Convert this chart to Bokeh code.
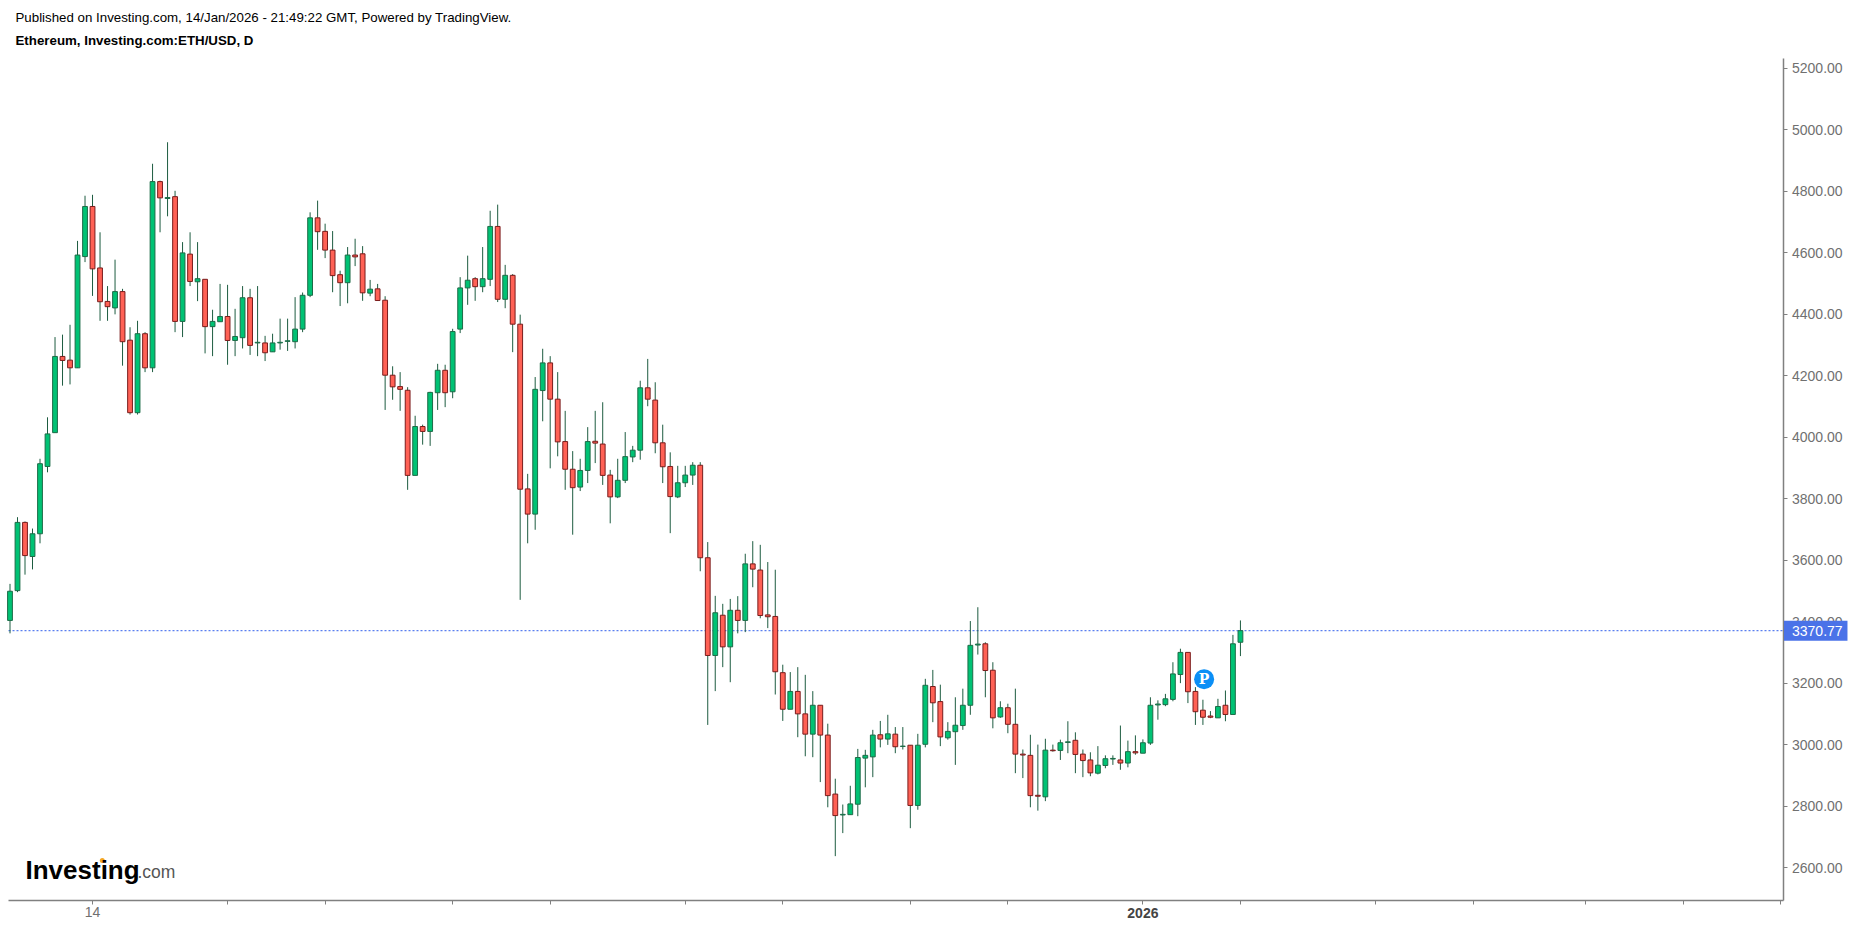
from bokeh.core.properties import value
from bokeh.embed import file_html
from bokeh.models import FixedTicker, Label, LinearAxis, NumeralTickFormatter
from bokeh.plotting import figure
from bokeh.resources import INLINE

# Daily candles, Aug 3 2025 - Jan 14 2026
opens = [3404, 3501, 3723, 3612, 3686, 3905, 4015, 4263, 4251, 4226, 4588, 4751, 4551, 4442, 4421, 4474, 4316, 4080, 4337, 4226,
         4832, 4777, 4783, 4377, 4596, 4506, 4514, 4360, 4376, 4393, 4315, 4324, 4454, 4307, 4307, 4278, 4307, 4312, 4311, 4352,
         4462, 4714, 4670, 4609, 4529, 4503, 4593, 4597, 4469, 4483, 4446, 4202, 4165, 4153, 3876, 4035, 4019, 4145, 4218, 4148,
         4352, 4486, 4516, 4490, 4514, 4686, 4449, 4527, 4368, 3832, 3750, 4152, 4242, 4124, 3986, 3896, 3838, 3892, 3987, 3978,
         3877, 3806, 3860, 3936, 3958, 4161, 4121, 3982, 3905, 3806, 3852, 3877, 3909, 3608, 3290, 3421, 3318, 3437, 3404, 3588,
         3568, 3422, 3417, 3234, 3115, 3173, 3100, 3034, 3128, 3031, 2839, 2771, 2772, 2806, 2956, 2960, 3032, 3018, 3034, 2994,
         2998, 2802, 3001, 3189, 3140, 3022, 3042, 3062, 3128, 3324, 3328, 3242, 3090, 3120, 3066, 2969, 2965, 2835, 2830, 2982,
         2981, 3007, 3014, 2969, 2950, 2907, 2932, 2953, 2950, 2940, 2977, 2972, 3005, 3129, 3130, 3147, 3228, 3300, 3173, 3112,
         3093, 3087, 3128, 3098, 3333]
highs = [3523, 3740, 3726, 3703, 3930, 4065, 4326, 4334, 4366, 4639, 4786, 4789, 4667, 4492, 4578, 4483, 4358, 4379, 4342, 4890,
         4835, 4960, 4802, 4635, 4667, 4635, 4514, 4415, 4499, 4496, 4418, 4492, 4483, 4492, 4330, 4337, 4386, 4386, 4456, 4471,
         4732, 4770, 4695, 4671, 4542, 4619, 4646, 4622, 4512, 4499, 4459, 4231, 4212, 4163, 4070, 4041, 4148, 4239, 4236, 4353,
         4521, 4591, 4521, 4619, 4737, 4757, 4561, 4531, 4399, 3881, 4196, 4288, 4264, 4212, 4086, 3955, 3930, 4033, 4086, 4114,
         3894, 3930, 4017, 3972, 4184, 4255, 4179, 4041, 3951, 3907, 3907, 3919, 3919, 3659, 3484, 3458, 3474, 3483, 3621, 3662,
         3650, 3594, 3569, 3260, 3236, 3252, 3227, 3174, 3128, 3068, 2889, 2805, 2866, 2986, 2983, 3048, 3077, 3097, 3057, 3057,
         2998, 3035, 3214, 3243, 3195, 3073, 3154, 3182, 3402, 3447, 3333, 3268, 3141, 3133, 3182, 2984, 3032, 3000, 3019, 3000,
         3016, 3076, 3040, 2984, 2975, 2995, 2965, 2965, 3062, 3013, 3030, 3017, 3154, 3144, 3165, 3268, 3312, 3300, 3187, 3146,
         3109, 3149, 3176, 3357, 3404]
lows = [3362, 3496, 3553, 3570, 3655, 3886, 4015, 4168, 4172, 4226, 4570, 4460, 4379, 4379, 4400, 4233, 4074, 4074, 4212, 4212,
        4667, 4719, 4342, 4326, 4492, 4443, 4273, 4264, 4376, 4236, 4264, 4289, 4268, 4264, 4248, 4278, 4285, 4281, 4289, 4342,
        4456, 4610, 4583, 4472, 4427, 4436, 4557, 4444, 4459, 4445, 4089, 4122, 4086, 3829, 3876, 3976, 3972, 4089, 4098, 4127,
        4339, 4431, 4444, 4472, 4492, 4440, 4420, 4277, 3471, 3655, 3699, 4052, 3899, 3938, 3829, 3683, 3825, 3851, 3916, 3845,
        3720, 3802, 3851, 3919, 3927, 4101, 3948, 3851, 3688, 3802, 3838, 3845, 3564, 3064, 3174, 3252, 3203, 3362, 3366, 3512,
        3411, 3379, 3163, 3077, 3115, 3024, 2962, 2959, 2878, 2796, 2637, 2712, 2772, 2767, 2861, 2894, 2991, 2999, 2972, 2984,
        2728, 2788, 2991, 3073, 2995, 3016, 2934, 3048, 3097, 3293, 3154, 3053, 3087, 3037, 2907, 2891, 2796, 2785, 2816, 2977,
        2950, 2972, 2907, 2894, 2897, 2903, 2923, 2934, 2918, 2926, 2967, 2972, 2999, 3081, 3125, 3141, 3200, 3135, 3064, 3064,
        3086, 3087, 3076, 3098, 3288]
closes = [3499, 3723, 3615, 3686, 3914, 4011, 4263, 4250, 4226, 4593, 4751, 4548, 4441, 4425, 4474, 4311, 4080, 4337, 4226, 4832,
          4779, 4780, 4377, 4600, 4507, 4516, 4360, 4377, 4393, 4315, 4328, 4454, 4299, 4309, 4275, 4307, 4309, 4314, 4352, 4462,
          4714, 4669, 4609, 4526, 4503, 4593, 4587, 4470, 4482, 4445, 4202, 4164, 4156, 3876, 4035, 4019, 4146, 4218, 4145, 4344,
          4486, 4511, 4490, 4516, 4686, 4449, 4527, 4368, 3831, 3750, 4156, 4242, 4124, 3985, 3896, 3836, 3892, 3986, 3981, 3876,
          3806, 3860, 3937, 3958, 4161, 4124, 3982, 3904, 3807, 3852, 3877, 3909, 3608, 3290, 3429, 3318, 3437, 3404, 3588, 3571,
          3420, 3416, 3237, 3115, 3173, 3100, 3034, 3128, 3031, 2834, 2769, 2773, 2807, 2958, 2965, 3031, 3018, 3035, 2993, 2995,
          2802, 2998, 3193, 3136, 3025, 3043, 3063, 3128, 3323, 3327, 3241, 3087, 3120, 3066, 2969, 2966, 2834, 2832, 2982, 2980,
          3006, 3009, 2968, 2948, 2908, 2933, 2954, 2955, 2940, 2977, 2973, 3006, 3128, 3132, 3149, 3230, 3300, 3172, 3107, 3089,
          3089, 3124, 3098, 3328, 3370.77]

days = list(range(len(opens)))
last_price = 3370.77

price_ticks = [2600, 2800, 3000, 3200, 3400, 3600, 3800, 4000, 4200, 4400, 4600, 4800, 5000, 5200]
# Day index of each time tick, only "14" and "2026" have a visible label
day_ticks = [11, 29, 42, 59, 72, 90, 103, 120, 133, 151, 164, 182, 195, 210, 223, 236]
day_labels = {11: "14"}
year_day = 151
year_label = "2026"

pivot_day = 159.16
pivot_price = 3213
logo_dot_day = 12.3
logo_dot_price = 2623

AXIS = "#808080"
TEXT = "#707070"

# where the chart area ends, the axes sit on these values
X_START, X_END = -0.2, 236.45
Y_START, Y_END = 2492.7, 5232.5
BOX_DAYS = 8.46
BOX_PRICE = 32.5

# Center annotations and fixed axes get clipped to the frame, so the frame fills the whole
# canvas and the ranges are widened to keep the scale
p = figure(width=1850, height=924, output_backend="svg", toolbar_location=None, tools="",
           x_range=(-1.2663, 245.3136), y_range=(2414.6, 5421.23),
           x_axis_location=None, y_axis_location=None,
           min_border=0, outline_line_color=None, background_fill_color="white", border_fill_color="white")
p.grid.visible = False

x_axis = LinearAxis(fixed_location=Y_START, bounds=(X_START, X_END), ticker=FixedTicker(ticks=day_ticks),
                    major_label_overrides={d: day_labels.get(d, "") for d in day_ticks}, major_label_standoff=3)
y_axis = LinearAxis(fixed_location=X_END, bounds=(Y_START, Y_END), ticker=FixedTicker(ticks=price_ticks),
                    formatter=NumeralTickFormatter(format="0.00"), major_label_standoff=4)
for ax in (x_axis, y_axis):
    ax.axis_line_color = AXIS
    ax.axis_line_width = 1.5
    ax.major_tick_line_color = AXIS
    ax.major_tick_in = 0
    ax.major_tick_out = 4
    ax.minor_tick_line_color = None
    ax.major_label_text_color = TEXT
    ax.major_label_text_font = "Liberation Sans"
    ax.major_label_text_font_size = "14px"
p.add_layout(x_axis, "below")
p.add_layout(y_axis, "right")

# dotted last price line sits behind the candles
p.line([X_START, X_END], [last_price, last_price], line_color="#5a7ff0", line_width=1.2,
       line_dash=[2, 2], level="underlay")

# Candles
up = [c >= o for o, c in zip(opens, closes)]
up_days = [d for d, u in zip(days, up) if u]
down_days = [d for d, u in zip(days, up) if not u]
p.segment(days, lows, days, highs, line_color="#1d5c40", line_width=1)
p.vbar(up_days, 0.64, [opens[d] for d in up_days], [closes[d] for d in up_days],
       fill_color="#00c274", line_color="#1d6b47", line_width=1)
p.vbar(down_days, 0.64, [closes[d] for d in down_days], [opens[d] for d in down_days],
       fill_color="#ff6155", line_color="#7a1c1c", line_width=1)

# Pivot marker
p.scatter([pivot_day], [pivot_price], size=20, marker="circle", fill_color="#0b8ff6", line_color=None)
p.text([pivot_day], [pivot_price], text=["P"], text_color="white", text_align="center", text_baseline="middle",
       text_font=value("DejaVu Serif"), text_font_style="bold", text_font_size="14px")


def add_text(text, x, y, size, color="#000000", style="normal", x_units="canvas", y_units="canvas", align="left"):
    p.add_layout(Label(x=x, y=y, x_units=x_units, y_units=y_units, text=text, text_color=color,
                       text_font="Liberation Sans", text_font_size=size, text_font_style=style,
                       text_align=align, text_baseline="middle", level="overlay"))


add_text("Published on Investing.com, 14/Jan/2026 - 21:49:22 GMT, Powered by TradingView.", 15, 17, "13.3px")
add_text("Ethereum, Investing.com:ETH/USD, D", 15, 40, "13.3px", style="bold")
add_text("Investing", 25, 869.5, "26px", style="bold")
add_text(".com", 137, 871, "17.5px", color="#555555")
add_text(year_label, year_day, 912, "14px", color="#444444", style="bold", x_units="data", align="center")

# Logo dot goes over the lettering
p.scatter([logo_dot_day], [logo_dot_price], size=5, marker="circle", fill_color="#f5a623", line_color=None, level="overlay")

# Last price box covers the axis labels under it
p.quad(left=[X_END], right=[X_END + BOX_DAYS], top=[last_price + BOX_PRICE], bottom=[last_price - BOX_PRICE],
       fill_color="#4a72e8", line_color=None, level="overlay")
add_text(f"{last_price:.2f}", 1791.5, last_price, "14px", color="white", y_units="data")

open("out.html", "w").write(file_html(p, INLINE))
